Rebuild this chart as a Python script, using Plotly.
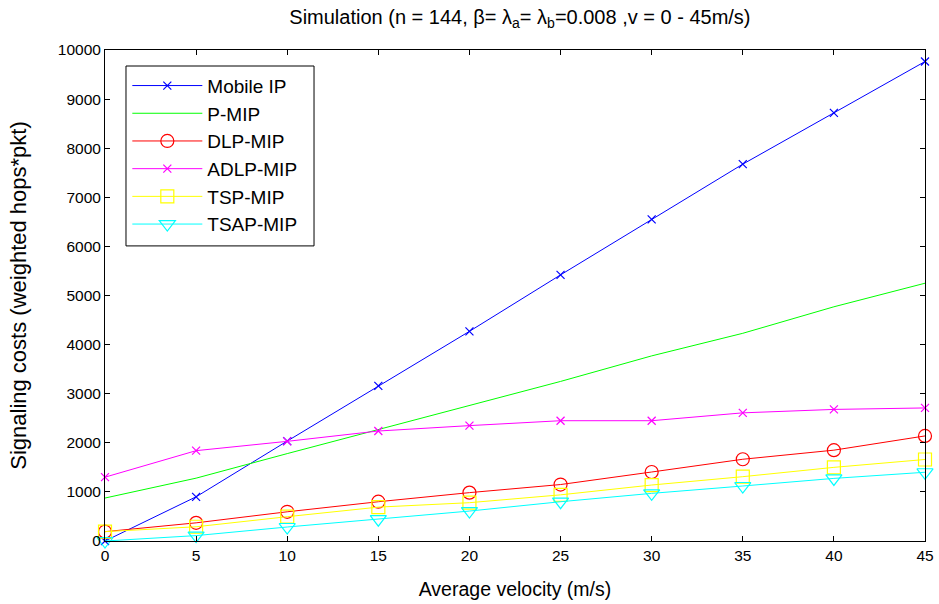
import plotly.graph_objects as go

# Average velocity (m/s)
velocity = [0, 5, 10, 15, 20, 25, 30, 35, 40, 45]

# Signaling costs (weighted hops*pkt) per scheme
mobile_ip = [0, 900, 2035, 3160, 4270, 5420, 6550, 7675, 8720, 9765]
p_mip = [875, 1280, 1780, 2270, 2750, 3250, 3770, 4230, 4770, 5250]
dlp_mip = [190, 370, 595, 800, 985, 1150, 1405, 1665, 1850, 2140]
adlp_mip = [1300, 1840, 2030, 2240, 2350, 2450, 2450, 2610, 2680, 2710]
tsp_mip = [190, 290, 495, 690, 780, 940, 1140, 1310, 1500, 1660]
tsap_mip = [0, 110, 285, 445, 610, 800, 970, 1120, 1275, 1400]

x_ticks = [0, 5, 10, 15, 20, 25, 30, 35, 40, 45]
y_ticks = [0, 1000, 2000, 3000, 4000, 5000, 6000, 7000, 8000, 9000, 10000]

series = [
    ("Mobile IP", mobile_ip, "#0000ff", "x-thin-open", 8),
    ("P-MIP", p_mip, "#00ff00", None, 0),
    ("DLP-MIP", dlp_mip, "#ff0000", "circle-open", 13),
    ("ADLP-MIP", adlp_mip, "#ff00ff", "x-thin-open", 8),
    ("TSP-MIP", tsp_mip, "#ffff00", "square-open", 13),
    ("TSAP-MIP", tsap_mip, "#00ffff", "triangle-down-open", 14),
]

fig = go.Figure()
for name, values, color, symbol, size in series:
    if symbol is None:
        fig.add_trace(go.Scatter(
            x=velocity, y=values, name=name, mode="lines",
            line=dict(color=color, width=1), cliponaxis=False,
        ))
    else:
        fig.add_trace(go.Scatter(
            x=velocity, y=values, name=name, mode="lines+markers",
            line=dict(color=color, width=1),
            marker=dict(symbol=symbol, size=size, color=color,
                        line=dict(color=color, width=1.2)),
            cliponaxis=False,
        ))

axis_common = dict(
    showline=True, linecolor="black", linewidth=1, mirror="allticks",
    ticks="inside", ticklen=5, tickcolor="black", showgrid=False,
    zeroline=False, tickformat="d", automargin=False,
    tickfont=dict(family="Liberation Sans, Arial", size=15.5, color="black"),
)

# legend frame: white box with black border, drawn above the curves
fig.add_shape(
    type="rect", xref="paper", yref="paper",
    x0=0.0256, x1=0.2549, y0=0.601, y1=0.9674,
    line=dict(color="black", width=1), fillcolor="white", layer="above",
)

fig.update_layout(
    width=939, height=604,
    margin=dict(l=105, r=14, t=50, b=63),
    paper_bgcolor="white", plot_bgcolor="white",
    font=dict(family="Liberation Sans, Arial", color="black"),
    title=dict(
        text="Simulation (n = 144, β= λ<sub>a</sub>= λ<sub>b</sub>=0.008 ,v = 0 - 45m/s)",
        x=0.506, xref="paper", xanchor="center", y=0.972, yanchor="middle",
        font=dict(size=20, color="black"),
    ),
    xaxis=dict(range=[0, 45], tickvals=x_ticks, **axis_common,
               title=dict(text="Average velocity (m/s)", font=dict(size=19.5), standoff=19)),
    yaxis=dict(range=[0, 10000], tickvals=y_ticks, **axis_common,
               title=dict(text="Signaling costs (weighted hops*pkt)", font=dict(size=22), standoff=25)),
    legend=dict(
        x=0.026, y=0.968, xanchor="left", yanchor="top",
        bgcolor="rgba(0,0,0,0)", bordercolor="rgba(0,0,0,0)", borderwidth=1,
        font=dict(size=19, color="black"), itemwidth=70,
        tracegroupgap=0,
    ),
    showlegend=True,
)

fig.write_html("out.html")
